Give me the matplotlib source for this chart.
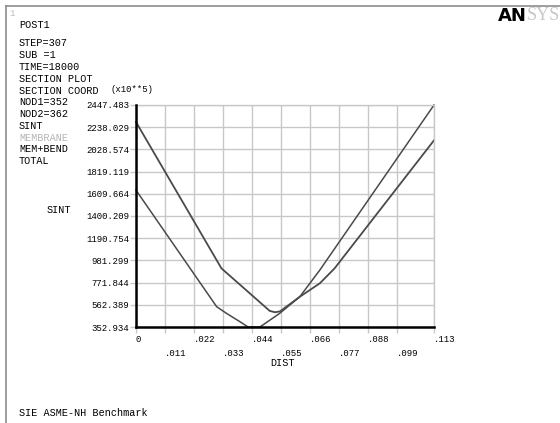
import matplotlib
matplotlib.use('Agg')
import matplotlib.pyplot as plt
from matplotlib.lines import Line2D

# Dados (SINT ao longo da secao, x10**5)
dist_a = [0, 0.0324, 0.0507, 0.0527, 0.0546, 0.0621, 0.0697, 0.0753, 0.113]
sint_a = [2287, 906, 505, 492, 500, 638, 765, 906, 2114]

dist_b = [0, 0.0306, 0.0343, 0.0394, 0.0425, 0.0470, 0.0545, 0.0621, 0.0697, 0.113]
sint_b = [1644, 544, 482, 403, 352.934, 352.934, 482, 638, 890, 2447.483]

y_ticks = [352.934, 562.389, 771.844, 981.299, 1190.754, 1400.209,
           1609.664, 1819.119, 2028.574, 2238.029, 2447.483]
y_labels = ['352.934', '562.389', '771.844', '981.299', '1190.754', '1400.209',
            '1609.664', '1819.119', '2028.574', '2238.029', '2447.483']
x_ticks = [0, 0.011, 0.022, 0.033, 0.044, 0.055, 0.066, 0.077, 0.088, 0.099, 0.113]
x_labels = ['0', '.011', '.022', '.033', '.044', '.055', '.066', '.077', '.088', '.099', '.113']

info = ['POST1', '', 'STEP=307', 'SUB =1', 'TIME=18000', 'SECTION PLOT', 'SECTION COORD',
        'NOD1=352', 'NOD2=362', 'SINT', 'MEMBRANE', 'MEM+BEND', 'TOTAL']

W, H = 560, 423
mono = 'Liberation Mono'

def fx(x):
    return x / W

def fy(y):
    return 1 - y / H

fig = plt.figure(figsize=(5.6, 4.23), dpi=100)
fig.patch.set_facecolor('white')

# moldura
fig.add_artist(Line2D([fx(6), fx(6)], [fy(6), 0], color='#8c8c8c', lw=1.2))
fig.add_artist(Line2D([fx(6), 1], [fy(6), fy(6)], color='#8c8c8c', lw=1.2))
fig.text(fx(9), fy(13), '1', color='#bbbbbb', fontsize=6.5, family=mono, va='center', ha='left')

# textos da esquerda
ypos = [25, 33, 43, 55, 67, 79, 91, 102, 114, 126, 138, 149, 161]
for t, yy in zip(info, ypos):
    if t == '':
        continue
    cor = '#b4b4b4' if t == 'MEMBRANE' else 'black'
    fig.text(fx(19), fy(yy), t, color=cor, fontsize=7.3, family=mono, va='center', ha='left')

fig.text(fx(110), fy(89), '(x10**5)', fontsize=6.4, family=mono, va='center', ha='left')
fig.text(fx(47), fy(210), 'SINT', fontsize=7.3, family=mono, va='center', ha='left')
fig.text(fx(19), fy(413), 'SIE ASME-NH Benchmark', fontsize=7.3, family=mono, va='center', ha='left')

# logo
fig.text(fx(498), fy(16), 'AN', fontsize=13, fontweight='bold', family='DejaVu Sans',
         va='center', ha='left', color='black')
fig.text(fx(527), fy(16), 'SYS', fontsize=13, family='Liberation Serif',
         va='center', ha='left', color='#c8c8c8')

# eixo principal
ax = fig.add_axes([fx(136), fy(327), fx(434) - fx(136), fy(105) - fy(327)])
ax.set_xlim(0, 0.113)
ax.set_ylim(352.934, 2447.483)

ax.set_xticks(x_ticks)
ax.set_yticks(y_ticks)
ax.set_yticklabels(y_labels, fontsize=6.5, family=mono)
lbls = []
for i, l in enumerate(x_labels):
    lbls.append(l if i % 2 == 0 or l == '.113' else '\n' + l)
ax.set_xticklabels(lbls, fontsize=6.5, family=mono, ha='left', linespacing=1.6)
ax.tick_params(axis='both', length=4, width=1, color='#c8c8c8', pad=1)
ax.tick_params(axis='x', pad=2)

ax.grid(True, color='#c8c8c8', lw=1)
ax.set_axisbelow(True)
for s in ['top', 'right']:
    ax.spines[s].set_color('#c8c8c8')
    ax.spines[s].set_linewidth(1)
for s in ['left', 'bottom']:
    ax.spines[s].set_color('black')
    ax.spines[s].set_linewidth(1.8)
    ax.spines[s].set_zorder(5)

ax.plot(dist_a, sint_a, color='#4a4a4a', lw=1.3, clip_on=False)
ax.plot(dist_b, sint_b, color='#4a4a4a', lw=1.1, clip_on=False)

fig.text(fx(270), fy(363), 'DIST', fontsize=7.3, family=mono, va='center', ha='left')

fig.savefig('out.png', dpi=100)
